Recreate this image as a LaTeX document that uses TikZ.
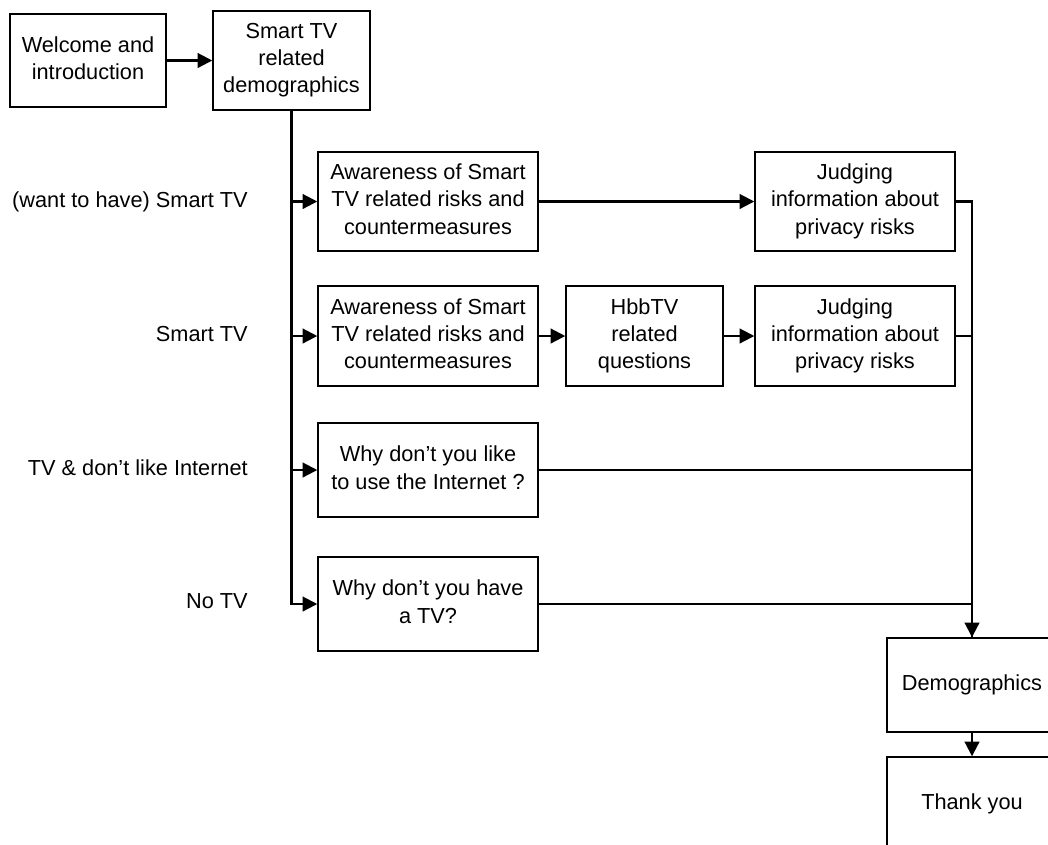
\documentclass[tikz,border=0pt]{standalone}
\usepackage{fontspec}
\setmainfont{Liberation Sans}
\usetikzlibrary{arrows.meta}
% strut that keeps the cap height centred in a line
\newcommand{\capstrut}{\rule[-3.6pt]{0pt}{15.4pt}}
\begin{document}
\begin{tikzpicture}[x=0.75pt, y=-0.75pt,
  every node/.style={font=\fontsize{16.3pt}{20.3pt}\selectfont,
    execute at begin node=\capstrut, execute at end node=\capstrut},
  box/.style n args={2}{draw, line width=1.1pt, align=center, inner sep=0pt,
    minimum width=0.75*#1 pt, minimum height=0.75*#2 pt},
  cond/.style={anchor=east, inner sep=0pt},
  conn/.style={line width=1.6pt, -{Triangle[length=11pt, width=11pt]}},
  link/.style={line width=1.6pt}]
\useasboundingbox (0,0) rectangle (1048,844);
\clip (0,0) rectangle (1048,844);

% first stage
\node[box={156}{93}] (welcome) at (88,60.5) {Welcome and\\introduction};
\node[box={157}{99}] (stv) at (291.5,60.5) {Smart TV\\related\\demographics};

% group specific branches
\node[box={220}{99}] (aw1) at (428,201.5) {Awareness of Smart\\TV related risks and\\countermeasures};
\node[box={200}{99}] (jud1) at (855,201.5) {Judging\\information about\\privacy risks};
\node[box={220}{100}] (aw2) at (428,336) {Awareness of Smart\\TV related risks and\\countermeasures};
\node[box={157}{100}] (hbb) at (644.5,336) {HbbTV\\related\\questions};
\node[box={200}{100}] (jud2) at (855,336) {Judging\\information about\\privacy risks};
\node[box={220}{94}] (why1) at (428,470) {Why don’t you like\\to use the Internet ?};
\node[box={220}{94}] (why2) at (428,604) {Why don’t you have\\a TV?};

% closing stage
\node[box={170}{94}] (demo) at (972,685) {Demographics};
\node[box={170}{94}] (thanks) at (972,804) {Thank you};

% branch conditions
\node[cond] (c1) at (248,202) {(want to have) Smart TV};
\node[cond] (c2) at (248,336) {Smart TV};
\node[cond] (c3) at (248,470) {TV \& don’t like Internet};
\node[cond] (c4) at (248,603) {No TV};

% connectors
\draw[conn] (welcome.east) -- (welcome.east -| stv.west);
\draw[conn] (stv.south) |- (aw1.west);
\draw[conn] (stv.south) |- (aw2.west);
\draw[conn] (stv.south) |- (why1.west);
\draw[conn] (stv.south) |- (why2.west);
\draw[conn] (aw1) -- (jud1);
\draw[conn] (aw2) -- (hbb);
\draw[conn] (hbb) -- (jud2);
\draw[link] (jud2.east) -| (demo.north);
\draw[link] (why1.east) -| (demo.north);
\draw[link] (why2.east) -| (demo.north);
\draw[conn] (jud1.east) -| (demo.north);
\draw[conn] (demo) -- (thanks);
\end{tikzpicture}
\end{document}
